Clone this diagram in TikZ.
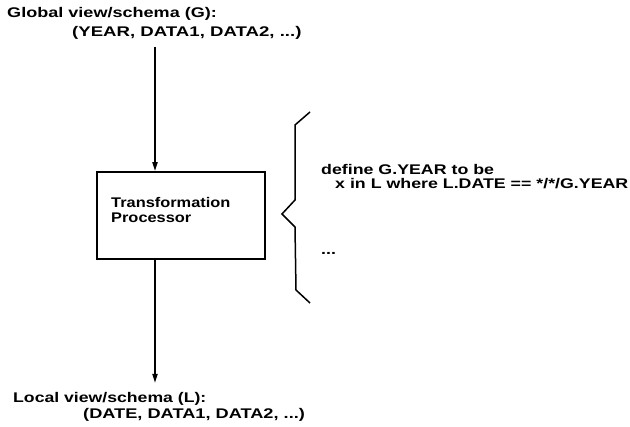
\documentclass[tikz,border=0pt]{standalone}
\usepackage{fontspec}
\usepackage{graphicx}
\setmainfont{Liberation Sans}
\usetikzlibrary{arrows.meta}
\newcommand{\stretchtext}[2]{\scalebox{#1}[1]{#2}}
\begin{document}
\begin{tikzpicture}[x=1pt,y=-1pt,
  lbl/.style={anchor=base west,inner sep=0pt,font=\bfseries\fontsize{14}{16}\selectfont},
  conn/.style={line width=1.8pt,-{Triangle[length=9pt,width=5pt]}},
  procbox/.style={draw,line width=1.8pt,minimum width=168pt,minimum height=87pt,inner sep=0pt}]
\useasboundingbox (0,0) rectangle (630,427);
\node[lbl] (g1) at (7,18) {\stretchtext{1.29}{Global view/schema (G):}};
\node[lbl] (g2) at (72,37) {\stretchtext{1.33}{(YEAR, DATA1, DATA2, ...)}};
\node[procbox] (proc) at (181,215.5) {};
\node[lbl] (t1) at (111,208) {\stretchtext{1.17}{Transformation}};
\node[lbl] (t2) at (111,223) {\stretchtext{1.17}{Processor}};
\node[lbl] (l1) at (13,403) {\stretchtext{1.26}{Local view/schema (L):}};
\node[lbl] (l2) at (83,419) {\stretchtext{1.3}{(DATE, DATA1, DATA2, ...)}};
\coordinate (atop) at (155,47);
\coordinate (abot) at (155,383);
\draw[conn] (atop) -- (proc.north -| atop);
\draw[conn] (proc.south -| abot) -- (abot);
\draw[line width=1.5pt,line join=miter] (310,112) -- (295,125) -- (295,200) -- (282,214) -- (295,227) -- (296,290) -- (310,303);
\node[lbl] (d1) at (321,175) {\stretchtext{1.27}{define G.YEAR to be}};
\node[lbl] (d2) at (335,189) {\stretchtext{1.27}{x in L where L.DATE == */*/G.YEAR}};
\node[lbl] (d3) at (321,255) {\stretchtext{1.27}{...}};
\end{tikzpicture}
\end{document}
